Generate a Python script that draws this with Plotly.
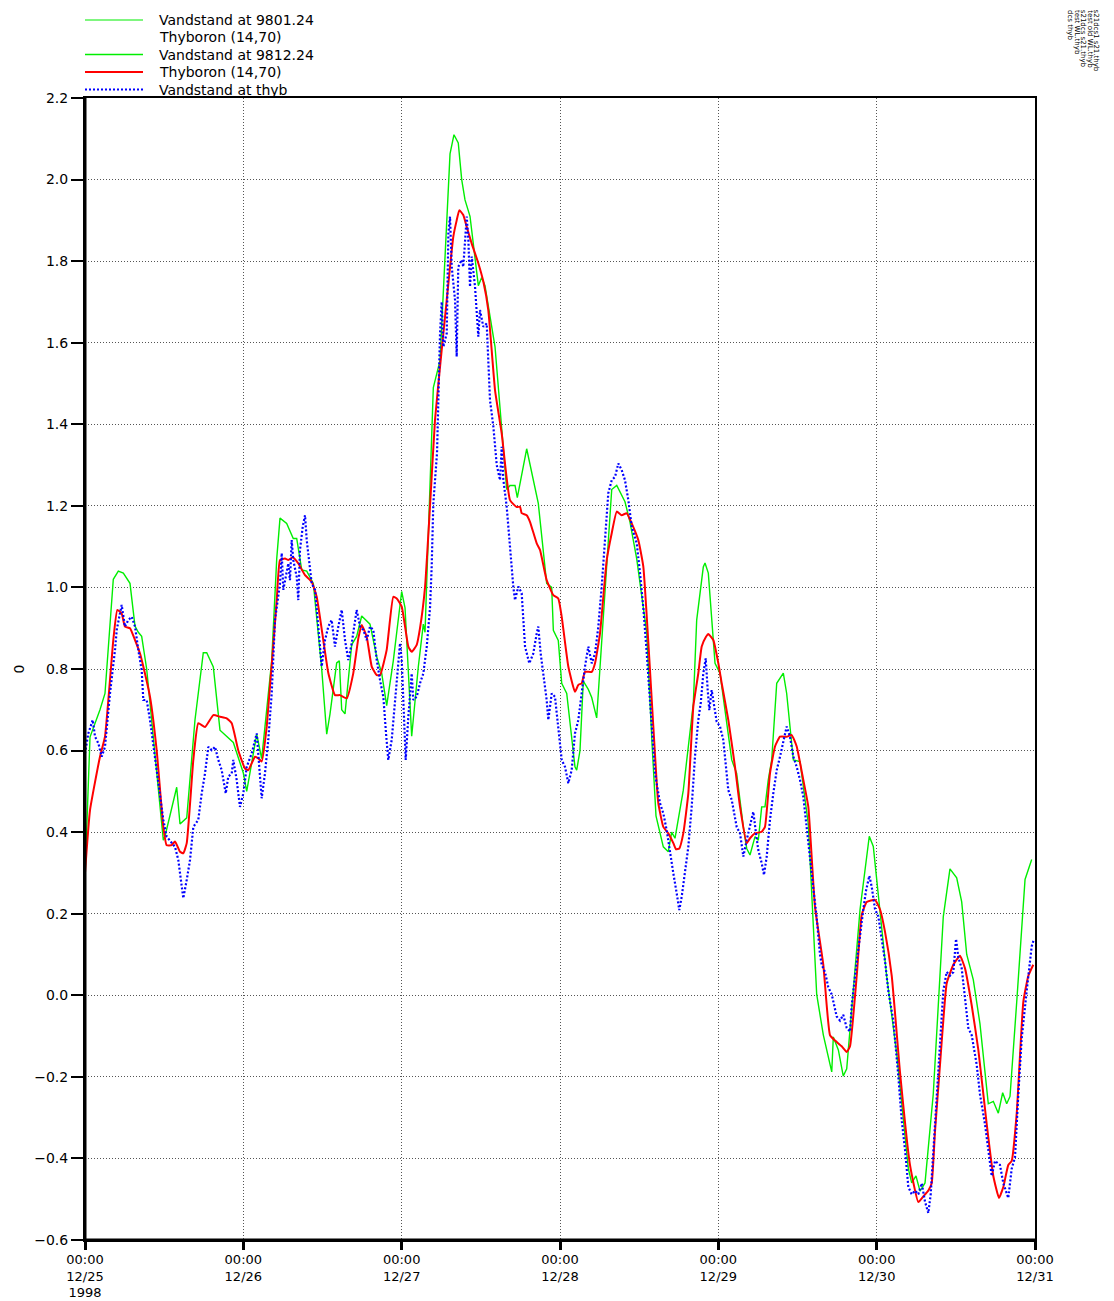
import pandas as pd
import plotly.graph_objects as go

# ---- data -------------------------------------------------------------
START = pd.Timestamp("1998-12-25 00:00")

# forecast "Vandstand at 9812.24" (hours after START, water level in m)
green_hours = [
    0.0, 0.76, 2.27, 3.03, 4.29, 5.05, 5.81, 6.82, 7.58, 8.08,
    8.59, 9.35, 11.87, 12.13, 13.90, 14.40, 15.42, 16.67, 17.93, 18.45,
    19.45, 20.46, 22.48, 24.0, 24.51, 26.03, 26.78, 28.30, 29.06, 29.56,
    30.57, 31.57, 32.09, 32.85, 33.61, 34.61, 35.88, 36.64, 37.14, 38.15,
    38.55, 38.91, 39.41, 40.43, 41.18, 41.94, 43.20, 44.22, 44.97, 45.73,
    46.73, 48.0, 48.51, 49.52, 50.52, 51.28, 51.54, 52.80, 53.81, 55.33,
    55.93, 56.58, 57.10, 57.60, 58.36, 59.62, 60.13, 60.63, 62.15, 63.92,
    64.42, 65.18, 65.53, 66.95, 68.71, 69.98, 70.74, 70.99, 71.74, 72.26,
    73.02, 74.27, 74.53, 75.03, 75.53, 76.29, 76.81, 77.56, 79.84, 80.60,
    81.85, 82.61, 83.63, 85.14, 85.94, 86.55, 87.66, 88.42, 88.93, 89.43,
    90.69, 92.21, 92.72, 93.72, 93.98, 94.48, 95.50, 96.25, 98.03, 98.78,
    99.79, 100.30, 100.80, 101.56, 102.06, 102.57, 103.07, 103.57, 104.09, 104.85,
    105.85, 106.36, 107.37, 108.38, 109.64, 110.91, 111.91, 113.19, 113.43, 114.19,
    114.94, 115.46, 117.48, 118.88, 119.49, 120.50, 121.52, 123.04, 124.80, 125.31,
    125.96, 126.57, 127.33, 128.58, 130.10, 131.11, 132.13, 132.89, 133.65, 134.65,
    135.66, 136.92, 137.68, 138.44, 139.10, 139.71, 140.21, 141.23, 142.49, 143.50,
]
green_level = [
    0.29, 0.633, 0.70, 0.74, 1.02, 1.04, 1.035, 1.01, 0.905, 0.89,
    0.88, 0.80, 0.38, 0.39, 0.51, 0.42, 0.435, 0.675, 0.84, 0.84,
    0.805, 0.65, 0.62, 0.545, 0.50, 0.64, 0.58, 0.82, 1.07, 1.17,
    1.157, 1.12, 1.12, 1.043, 1.04, 1.01, 0.80, 0.64, 0.69, 0.815,
    0.82, 0.70, 0.69, 0.86, 0.88, 0.93, 0.91, 0.83, 0.79, 0.71,
    0.82, 0.99, 0.95, 0.635, 0.805, 0.91, 0.89, 1.49, 1.556, 2.063,
    2.11, 2.09, 2.0, 1.95, 1.91, 1.74, 1.76, 1.74, 1.59, 1.24,
    1.25, 1.25, 1.22, 1.34, 1.206, 1.01, 1.0, 0.895, 0.87, 0.765,
    0.74, 0.56, 0.552, 0.60, 0.77, 0.75, 0.73, 0.68, 1.24, 1.25,
    1.21, 1.16, 1.07, 0.89, 0.62, 0.44, 0.364, 0.352, 0.40, 0.385,
    0.503, 0.716, 0.92, 1.05, 1.06, 1.035, 0.814, 0.79, 0.577, 0.544,
    0.413, 0.36, 0.344, 0.389, 0.38, 0.462, 0.462, 0.528, 0.577, 0.765,
    0.79, 0.74, 0.577, 0.573, 0.42, 0.002, -0.097, -0.188, -0.102, -0.134,
    -0.198, -0.18, 0.21, 0.39, 0.365, 0.21, 0.047, -0.143, -0.425, -0.46,
    -0.443, -0.48, -0.46, -0.242, 0.193, 0.31, 0.288, 0.229, 0.10, 0.038,
    -0.07, -0.266, -0.26, -0.289, -0.239, -0.266, -0.248, -0.016, 0.284, 0.333,
]

# model "Thyboron (14,70)"
red_hours = [
    0.0, 0.76, 2.27, 3.03, 4.29, 4.90, 5.56, 6.06, 6.82, 7.58,
    8.34, 8.84, 9.85, 10.87, 11.87, 12.38, 13.14, 13.64, 14.40, 14.90,
    15.42, 16.42, 17.17, 18.19, 19.45, 20.46, 21.48, 22.24, 23.24, 24.25,
    24.75, 25.77, 26.27, 26.78, 27.54, 29.06, 29.56, 30.32, 30.82, 31.48,
    32.33, 33.35, 34.36, 35.12, 36.12, 36.88, 37.89, 38.65, 39.67, 40.67,
    41.43, 41.94, 42.70, 43.46, 44.22, 44.72, 45.73, 46.73, 47.25, 48.01,
    49.01, 49.52, 50.28, 50.78, 51.54, 52.30, 53.05, 53.81, 54.83, 55.83,
    56.34, 56.74, 57.34, 57.86, 58.62, 59.62, 60.38, 61.13, 62.15, 63.16,
    64.42, 65.44, 65.94, 66.19, 66.95, 67.45, 68.47, 68.97, 69.98, 70.99,
    71.74, 72.26, 73.26, 74.27, 74.78, 75.29, 75.79, 76.81, 77.31, 78.06,
    79.08, 79.84, 80.60, 81.35, 82.11, 82.87, 83.87, 84.63, 85.64, 86.66,
    86.90, 87.66, 88.42, 89.18, 89.58, 90.08, 90.69, 91.45, 92.21, 92.96,
    93.48, 94.13, 94.48, 95.24, 96.0, 96.51, 97.51, 98.53, 99.29, 100.30,
    100.80, 101.56, 102.57, 103.07, 103.83, 104.59, 105.35, 106.36, 107.12, 107.88,
    108.88, 109.64, 110.65, 111.91, 112.93, 113.69, 114.70, 115.46, 115.96, 116.98,
    117.73, 118.49, 119.75, 120.50, 121.26, 122.28, 123.54, 125.05, 126.31, 127.07,
    127.83, 128.34, 128.84, 129.60, 130.10, 130.61, 131.62, 132.63, 133.39, 134.41,
    135.41, 136.68, 137.68, 138.54, 139.20, 139.95, 140.47, 141.23, 142.23, 142.99,
    143.74,
]
red_level = [
    0.30, 0.454, 0.585, 0.634, 0.871, 0.945, 0.936, 0.904, 0.90, 0.871,
    0.838, 0.806, 0.732, 0.60, 0.413, 0.368, 0.368, 0.377, 0.352, 0.348,
    0.373, 0.577, 0.667, 0.658, 0.687, 0.683, 0.679, 0.667, 0.60, 0.556,
    0.552, 0.585, 0.581, 0.573, 0.658, 0.969, 1.067, 1.071, 1.067, 1.074,
    1.059, 1.03, 1.014, 0.977, 0.871, 0.79, 0.736, 0.736, 0.728, 0.79,
    0.875, 0.908, 0.879, 0.806, 0.785, 0.785, 0.847, 0.977, 0.973, 0.953,
    0.855, 0.842, 0.859, 0.90, 1.0, 1.20, 1.41, 1.54, 1.705, 1.86,
    1.90, 1.925, 1.913, 1.884, 1.843, 1.795, 1.75, 1.68, 1.484, 1.378,
    1.214, 1.197, 1.198, 1.182, 1.177, 1.161, 1.108, 1.092, 1.018, 0.981,
    0.973, 0.928, 0.806, 0.744, 0.761, 0.765, 0.793, 0.793, 0.814, 0.887,
    1.067, 1.133, 1.186, 1.177, 1.182, 1.157, 1.116, 1.051, 0.797, 0.52,
    0.471, 0.413, 0.397, 0.373, 0.358, 0.36, 0.397, 0.495, 0.708, 0.789,
    0.855, 0.879, 0.886, 0.871, 0.814, 0.765, 0.675, 0.56, 0.462, 0.373,
    0.385, 0.397, 0.401, 0.413, 0.544, 0.61, 0.634, 0.634, 0.638, 0.61,
    0.528, 0.462, 0.217, 0.075, -0.098, -0.111, -0.125, -0.139, -0.125, 0.048,
    0.197, 0.229, 0.234, 0.211, 0.156, 0.048, -0.189, -0.416, -0.507, -0.493,
    -0.479, -0.461, -0.334, -0.17, -0.062, 0.029, 0.075, 0.097, 0.066, -0.025,
    -0.134, -0.316, -0.443, -0.497, -0.47, -0.416, -0.406, -0.289, -0.016, 0.048,
    0.075,
]

# observed "Vandstand at thyb"
blue_hours = [
    0.0, 0.50, 1.17, 1.52, 2.02, 2.53, 3.03, 3.79, 4.55, 4.81,
    5.20, 5.56, 6.06, 6.56, 7.08, 7.58, 8.08, 8.59, 8.84, 9.35,
    9.85, 10.11, 10.61, 11.37, 11.87, 12.38, 13.14, 13.64, 14.14, 14.66,
    14.90, 15.42, 15.92, 16.42, 17.17, 17.69, 18.19, 18.69, 19.21, 19.71,
    20.21, 20.72, 20.96, 21.33, 21.72, 22.24, 22.48, 22.99, 23.49, 24.0,
    24.51, 25.27, 26.03, 26.53, 26.78, 27.28, 27.78, 28.30, 28.80, 29.56,
    29.82, 30.06, 30.57, 30.82, 31.07, 31.33, 31.57, 32.09, 32.33, 32.59,
    33.0, 33.35, 33.61, 34.11, 34.36, 34.87, 35.12, 35.62, 35.88, 36.38,
    36.88, 37.39, 37.89, 38.40, 38.91, 39.41, 39.91, 40.43, 41.18, 41.69,
    42.19, 42.70, 43.20, 43.70, 44.22, 44.72, 45.22, 45.63, 45.97, 46.49,
    46.99, 47.49, 47.75, 48.01, 48.25, 48.61, 49.01, 49.52, 49.76, 50.28,
    50.78, 51.28, 51.80, 52.30, 52.55, 52.80, 53.36, 53.81, 54.07, 54.32,
    54.83, 55.08, 55.33, 55.59, 56.09, 56.34, 56.58, 57.10, 57.34, 57.86,
    58.11, 58.36, 58.62, 59.12, 59.62, 59.87, 60.38, 60.89, 61.39, 61.90,
    62.41, 62.91, 63.16, 63.41, 63.92, 64.42, 64.92, 65.18, 65.68, 66.19,
    66.44, 66.70, 67.35, 67.95, 68.47, 68.71, 69.07, 69.47, 69.98, 70.23,
    70.74, 71.24, 71.74, 72.26, 72.76, 73.26, 73.77, 74.27, 74.78, 75.29,
    75.79, 76.29, 76.81, 77.31, 77.81, 78.32, 78.82, 79.32, 79.84, 80.34,
    80.84, 81.35, 81.85, 82.36, 82.87, 83.63, 84.13, 84.63, 85.14, 85.64,
    86.40, 87.16, 87.66, 88.17, 88.68, 89.18, 89.69, 90.08, 90.45, 90.95,
    91.45, 91.96, 92.46, 92.96, 93.33, 93.72, 94.09, 94.39, 94.63, 94.99,
    95.34, 95.75, 96.25, 96.75, 97.16, 97.51, 98.03, 98.38, 98.78, 99.29,
    99.79, 100.30, 100.80, 101.30, 101.71, 102.06, 102.57, 102.92, 103.33, 103.83,
    104.33, 104.85, 105.35, 105.85, 106.36, 106.86, 107.37, 107.88, 108.38, 108.88,
    109.39, 110.15, 110.91, 111.41, 111.67, 112.17, 112.67, 113.19, 113.94, 114.44,
    114.94, 115.46, 115.96, 116.22, 116.72, 117.07, 117.48, 117.98, 118.38, 118.89,
    119.25, 119.75, 120.25, 120.76, 121.26, 121.76, 122.52, 123.28, 123.80, 124.30,
    124.80, 125.31, 125.81, 126.31, 126.83, 127.33, 127.83, 128.19, 128.58, 129.10,
    129.60, 130.10, 130.61, 131.11, 131.62, 132.03, 132.38, 132.89, 133.39, 133.89,
    134.41, 135.16, 135.66, 136.42, 136.92, 137.44, 137.94, 138.69, 139.20, 139.95,
    140.47, 140.97, 141.47, 141.98, 142.74, 143.50, 143.85,
]
blue_level = [
    0.593, 0.642, 0.675, 0.634, 0.618, 0.585, 0.609, 0.74, 0.847, 0.896,
    0.928, 0.957, 0.904, 0.92, 0.928, 0.904, 0.847, 0.797, 0.724, 0.724,
    0.675, 0.642, 0.577, 0.479, 0.43, 0.389, 0.373, 0.364, 0.332, 0.275,
    0.238, 0.283, 0.332, 0.413, 0.43, 0.495, 0.544, 0.609, 0.601, 0.609,
    0.577, 0.552, 0.528, 0.495, 0.536, 0.544, 0.577, 0.528, 0.462, 0.495,
    0.56, 0.593, 0.642, 0.544, 0.483, 0.544, 0.626, 0.74, 0.92, 1.01,
    1.084, 0.994, 1.035, 1.059, 1.018, 1.116, 1.067, 1.026, 0.969, 1.092,
    1.149, 1.177, 1.116, 1.043, 1.01, 0.994, 0.945, 0.847, 0.806, 0.871,
    0.904, 0.92, 0.855, 0.904, 0.945, 0.871, 0.822, 0.863, 0.945, 0.904,
    0.896, 0.871, 0.904, 0.896, 0.822, 0.773, 0.732, 0.642, 0.577, 0.626,
    0.724, 0.83, 0.863, 0.822, 0.708, 0.577, 0.683, 0.789, 0.724, 0.732,
    0.765, 0.789, 0.855, 0.95, 1.051, 1.206, 1.33, 1.62, 1.70, 1.59,
    1.623, 1.868, 1.909, 1.786, 1.705, 1.566, 1.786, 1.803, 1.786, 1.909,
    1.852, 1.737, 1.811, 1.737, 1.615, 1.68, 1.639, 1.647, 1.459, 1.394,
    1.30, 1.263, 1.345, 1.265, 1.198, 1.092, 1.002, 0.969, 1.002, 0.986,
    0.928, 0.855, 0.814, 0.838, 0.887, 0.904, 0.838, 0.789, 0.724, 0.675,
    0.74, 0.732, 0.659, 0.577, 0.56, 0.52, 0.552, 0.642, 0.675, 0.748,
    0.806, 0.855, 0.814, 0.838, 0.904, 1.002, 1.116, 1.231, 1.263, 1.271,
    1.304, 1.288, 1.263, 1.214, 1.149, 1.108, 1.035, 0.95, 0.84, 0.724,
    0.544, 0.471, 0.446, 0.405, 0.348, 0.299, 0.25, 0.209, 0.242, 0.299,
    0.364, 0.462, 0.585, 0.675, 0.716, 0.789, 0.826, 0.748, 0.699, 0.748,
    0.708, 0.671, 0.659, 0.626, 0.56, 0.503, 0.479, 0.446, 0.413, 0.397,
    0.34, 0.381, 0.413, 0.45, 0.397, 0.356, 0.324, 0.295, 0.34, 0.43,
    0.495, 0.552, 0.585, 0.626, 0.659, 0.634, 0.585, 0.56, 0.528, 0.487,
    0.405, 0.299, 0.19, 0.10, 0.075, 0.057, 0.02, 0.002, -0.052, -0.062,
    -0.048, -0.08, -0.089, -0.025, 0.048, 0.093, 0.156, 0.211, 0.256, 0.293,
    0.266, 0.211, 0.193, 0.138, 0.084, 0.011, -0.062, -0.198, -0.307, -0.379,
    -0.47, -0.488, -0.479, -0.488, -0.461, -0.506, -0.534, -0.488, -0.388, -0.243,
    -0.107, 0.011, 0.057, 0.048, 0.057, 0.138, 0.093, 0.066, -0.007, -0.08,
    -0.098, -0.17, -0.243, -0.316, -0.379, -0.443, -0.406, -0.416, -0.461, -0.497,
    -0.425, -0.397, -0.243, -0.107, 0.011, 0.12, 0.138,
]

# axis ticks
day_ticks = ["1998-12-25", "1998-12-26", "1998-12-27", "1998-12-28",
             "1998-12-29", "1998-12-30", "1998-12-31"]
day_labels = ["00:00<br>12/25<br>1998", "00:00<br>12/26", "00:00<br>12/27",
              "00:00<br>12/28", "00:00<br>12/29", "00:00<br>12/30",
              "00:00<br>12/31"]

# legend rows: (label, colour, dash, width); colour None = text only
legend_rows = [
    ("Vandstand at 9801.24", "#00ee00", "solid", 1.2),
    ("Thyboron (14,70)", None, None, 0),
    ("Vandstand at 9812.24", "#00ee00", "solid", 1.4),
    ("Thyboron (14,70)", "#ff0000", "solid", 2),
    ("Vandstand at thyb", "#0000ff", "dot", 2),
]

# run identifiers printed vertically in the top-right corner
run_notes = ["dcs thyb", "test WL.thyb", "s21dcs s21.thyb",
             "test old WL.thyb", "s21dcs1 s21.thyb"]

assert len(green_hours) == len(green_level)
assert len(red_hours) == len(red_level)
assert len(blue_hours) == len(blue_level)


def to_time(hours):
    return START + pd.to_timedelta(pd.Series(hours), unit="h")


FONT = "DejaVu Sans"

fig = go.Figure()
fig.add_trace(go.Scatter(
    x=to_time(green_hours), y=green_level, mode="lines",
    name="Vandstand at 9812.24", line=dict(color="#00ee00", width=1.4),
    showlegend=False))
fig.add_trace(go.Scatter(
    x=to_time(red_hours), y=red_level, mode="lines",
    name="Thyboron (14,70)",
    line=dict(color="#ff0000", width=2, shape="spline", smoothing=0.4),
    showlegend=False))
fig.add_trace(go.Scatter(
    x=to_time(blue_hours), y=blue_level, mode="lines",
    name="Vandstand at thyb",
    line=dict(color="#0000ff", width=2.2, dash="2px,2px"),
    showlegend=False))

# hand-drawn legend above the plot area
W, H = 1114, 1301
L, R, T, B = 85, 79, 98, 61
pw, ph = W - L - R, H - T - B
row_px = [20, 37.5, 54.5, 72, 89.5]
for (label, colour, dash, width), ypx in zip(legend_rows, row_px):
    yp = (H - B - ypx) / ph
    if colour:
        fig.add_shape(type="line", xref="paper", yref="paper",
                      x0=0, x1=58 / pw, y0=yp, y1=yp,
                      line=dict(color=colour, width=width,
                                dash="2px,2px" if dash == "dot" else "solid"))
    fig.add_annotation(xref="paper", yref="paper", x=72 / pw, y=yp,
                       text=label, showarrow=False, xanchor="left",
                       yanchor="middle",
                       font=dict(family=FONT, size=14, color="black"))

for i, note in enumerate(run_notes):
    fig.add_annotation(xref="paper", yref="paper",
                       x=(1070 + 6.6 * i - L) / pw, y=(H - B - 8) / ph,
                       text=note, showarrow=False, textangle=90,
                       xanchor="center", yanchor="top",
                       font=dict(family=FONT, size=7, color="black"))

fig.update_layout(
    width=W, height=H,
    margin=dict(l=L, r=R, t=T, b=B, autoexpand=False),
    paper_bgcolor="white", plot_bgcolor="white",
    showlegend=False,
    font=dict(family=FONT, size=14, color="black"),
)
fig.update_xaxes(
    type="date",
    range=[day_ticks[0], day_ticks[-1]],
    tickmode="array", tickvals=day_ticks, ticktext=day_labels,
    ticks="outside", ticklen=8, tickwidth=3, tickcolor="black",
    ticklabelstandoff=-2,
    showline=True, linecolor="black", linewidth=2, mirror=True,
    showgrid=True, gridcolor="#555555", griddash="1px,2px", gridwidth=1,
    zeroline=False, tickfont=dict(family=FONT, size=13),
)
fig.update_yaxes(
    range=[-0.6, 2.2], dtick=0.2, tick0=0, tickformat=".1f",
    ticks="outside", ticklen=12, tickwidth=2, tickcolor="black",
    showline=True, linecolor="black", linewidth=2, mirror=True,
    showgrid=True, gridcolor="#555555", griddash="1px,2px", gridwidth=1,
    zeroline=False, tickfont=dict(family=FONT, size=14),
    title=dict(text="0", standoff=6, font=dict(family=FONT, size=14)),
)

# heavier left and bottom axis lines
fig.add_shape(type="line", xref="paper", yref="paper", x0=0, x1=0, y0=0, y1=1,
              line=dict(color="black", width=3))
fig.add_shape(type="line", xref="paper", yref="paper", x0=0, x1=1, y0=0, y1=0,
              line=dict(color="black", width=3))

fig.write_html("out.html")
